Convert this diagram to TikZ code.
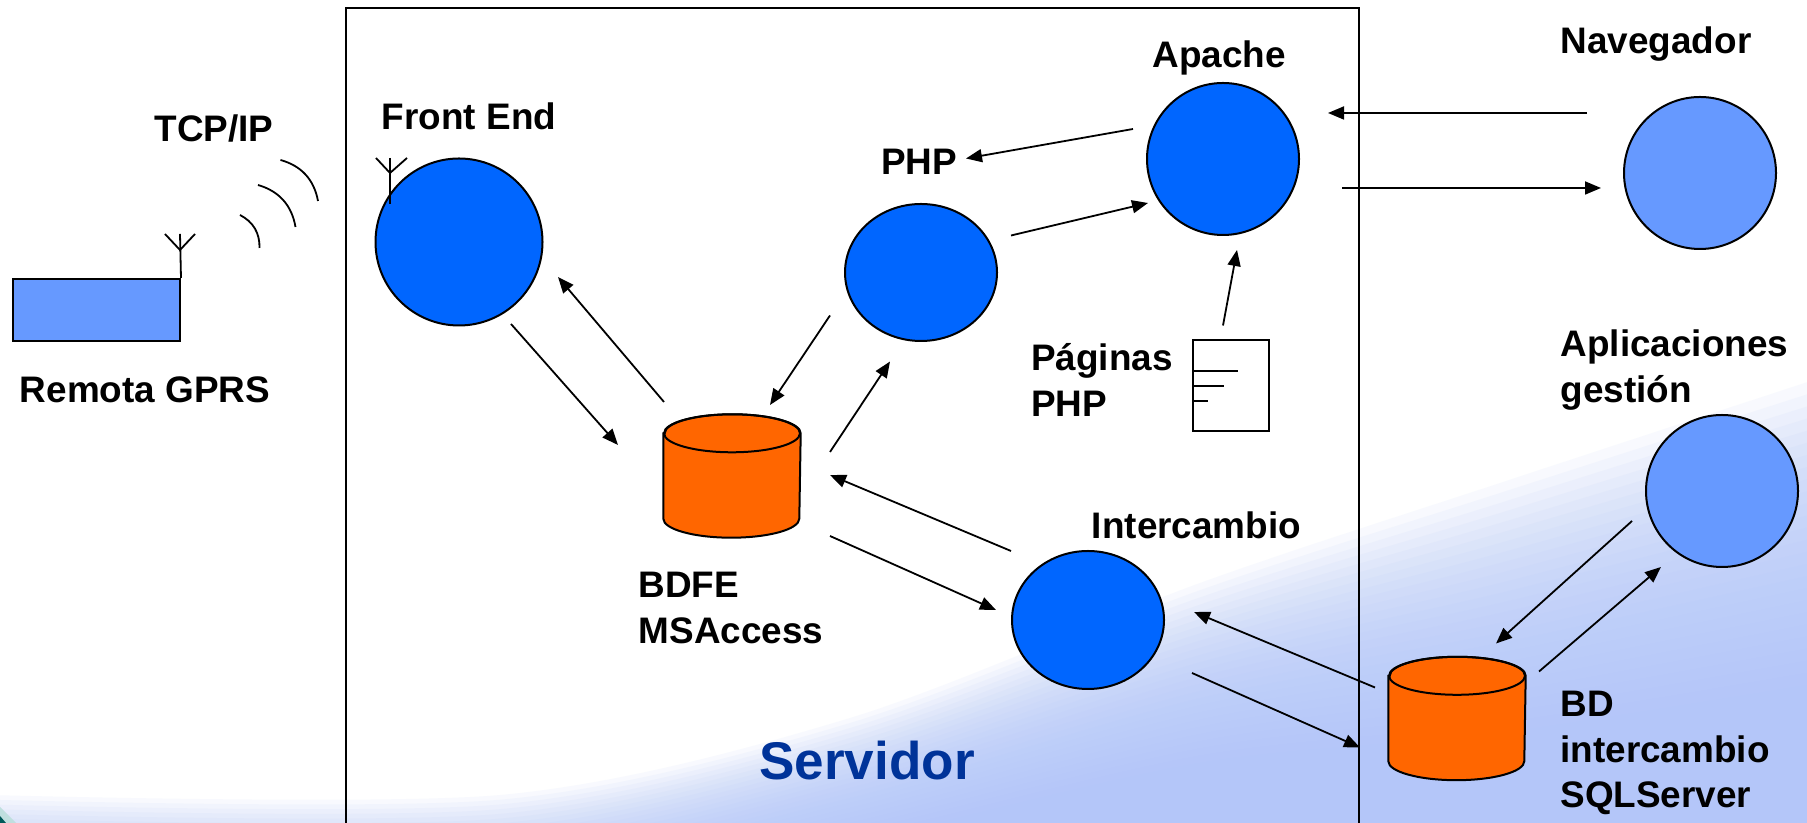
\documentclass[tikz,border=0pt]{standalone}
\usepackage{fontspec}
\setmainfont{Liberation Sans}
\usepackage{tikz}
\usetikzlibrary{shapes.geometric, arrows.meta, calc}
\definecolor{discblue}{HTML}{0066FF}
\definecolor{paleblue}{HTML}{6699FF}
\definecolor{dborange}{HTML}{FF6600}
\definecolor{titleblue}{HTML}{003399}
\definecolor{skyblue}{HTML}{B2C6F9}
\tikzset{
	label/.style={font=\bfseries\fontsize{10.5}{13}\selectfont, align=left, inner sep=0pt},
	disc/.style={ellipse, draw, line width=.02cm, fill=discblue, inner sep=0pt, minimum width=1.52cm, minimum height=1.52cm},
	paledisc/.style={disc, fill=paleblue},
	database/.style={rectangle, inner sep=0pt, minimum width=1.36cm, minimum height=1.22cm},
	link/.style={-{Triangle[length=.16cm, width=.13cm]}, line width=.018cm},
	thin line/.style={line width=.018cm},
}
\newcommand{\dbcan}[1]{
	\draw	[line width=.02cm, fill=dborange]	([yshift=-.19cm]#1.north west) -- ([yshift=.19cm]#1.south west) arc (180:360:.68cm and .19cm) -- ([yshift=-.19cm]#1.north east) arc (0:180:.68cm and .19cm) -- cycle;
	\draw	[line width=.02cm]	([yshift=-.19cm]#1.north) ellipse (.68cm and .19cm);
}
\begin{document}
\begin{tikzpicture}
	\clip (0, 0) rectangle (18.07, 8.23);
	\fill [white] (0, 0) rectangle (18.07, 8.23);
	% background wash
	\coordinate (o1) at (-.1, .28);	\coordinate (i1) at (-.1, -.9);
	\coordinate (o2) at (5, .28);	\coordinate (i2) at (5, -.9);
	\coordinate (o3) at (8.5, 1.05);	\coordinate (i3) at (8.5, -.2);
	\coordinate (o4) at (12, 2.4);	\coordinate (i4) at (12, .6);
	\coordinate (o5) at (15, 3.4);	\coordinate (i5) at (15, .9);
	\coordinate (o6) at (18.2, 4.45);	\coordinate (i6) at (18.2, 1.4);
	\foreach \t in {0, .04, ..., 1}
		\fill [skyblue, opacity=.09] plot [smooth] coordinates {($(o1)!\t!(i1)$) ($(o2)!\t!(i2)$) ($(o3)!\t!(i3)$) ($(o4)!\t!(i4)$) ($(o5)!\t!(i5)$) ($(o6)!\t!(i6)$)} -- (18.2, -1) -- (-.1, -1) -- cycle;
	\fill	[teal!25!white]	(0, 0) -- (0, .16) -- (.16, 0) -- cycle;
	\fill	[teal!70!black]	(0, 0) -- (0, .07) -- (.06, 0) -- cycle;

	\draw	[thin line]	(3.46, -.1) rectangle (13.59, 8.15);
	\node	(servidor)	at	(8.67, .62)	[font=\bfseries\fontsize{15.1}{18}\selectfont, text=titleblue, inner sep=0pt]	{Servidor};

	% remote unit
	\node	(remota)	at	(.965, 5.13)	[draw, line width=.02cm, fill=paleblue, inner sep=0pt, minimum width=1.67cm, minimum height=.62cm]	{};
	\coordinate	(tipA)	at	(1.80, 5.89);
	\draw	[thin line]	(remota.north east) -- (tipA);
	\draw	[thin line]	(1.65, 5.89) -- (1.80, 5.73) -- (1.95, 5.89);
	\draw	[thin line]	(2.40, 6.08) to[bend left=32] (2.595, 5.75);
	\draw	[thin line]	(2.58, 6.38) to[bend left=32] (2.955, 5.96);
	\draw	[thin line]	(2.805, 6.63) to[bend left=32] (3.18, 6.22);

	% processes
	\node	(frontend)	at	(4.59, 5.81)	[disc, minimum width=1.67cm, minimum height=1.67cm]	{};
	\node	(php)		at	(9.21, 5.505)	[disc, minimum height=1.37cm]	{};
	\node	(apache)	at	(12.23, 6.64)	[disc]	{};
	\node	(navegador)	at	(17, 6.5)		[paledisc]	{};
	\node	(gestion)	at	(17.22, 3.32)	[paledisc]	{};
	\node	(inter)		at	(10.88, 2.03)	[disc, minimum height=1.38cm]	{};
	\node	(bdfe)		at	(7.32, 3.47)	[database]	{};
	\node	(bdinter)	at	(14.57, 1.045)	[database]	{};
	\dbcan{bdfe}
	\dbcan{bdinter}
	\node	(paginas)	at	(12.31, 4.375)	[draw, thin line, inner sep=0pt, minimum width=.76cm, minimum height=.91cm]	{};
	\draw	[thin line]	(11.93, 4.52) -- (12.38, 4.52);
	\draw	[thin line]	(11.93, 4.37) -- (12.24, 4.37);
	\draw	[thin line]	(11.93, 4.22) -- (12.08, 4.22);
	\draw	[thin line]	(3.90, 6.65) -- (3.90, 6.19);
	\draw	[thin line]	(3.76, 6.65) -- (3.90, 6.50) -- (4.07, 6.65);

	% labels
	\node	(lfront)	at	(4.69, 7.07)	[label]	{Front End};
	\node	(ltcp)		at	(2.14, 6.94)	[label]	{TCP/IP};
	\node	(lremota)	at	(1.45, 4.33)	[label]	{Remota GPRS};
	\node	(lphp)		at	(9.19, 6.61)	[label]	{PHP};
	\node	(lapache)	at	(12.19, 7.65)	[label]	{Apache};
	\node	(lnav)		at	(16.56, 7.785)	[label]	{Navegador};
	\node	(lpag)		at	(11.02, 4.43)	[label]	{Páginas\\PHP};
	\node	(lgest)		at	(16.745, 4.53)	[label]	{Aplicaciones\\gestión};
	\node	(linter)	at	(11.965, 2.98)	[label]	{Intercambio};
	\node	(lbdfe)		at	(7.31, 2.15)	[label]	{BDFE\\MSAccess};
	\node	(lbdint)	at	(16.65, .70)	[label]	{BD\\intercambio\\SQLServer};

	% connectors
	\draw	[link]	([shift={(-.90, .30)}]apache.center)	-- ([shift={(.45, 1.14)}]php.center);
	\draw	[link]	([shift={(.90, .37)}]php.center)		-- ([shift={(-.75, -.44)}]apache.center);
	\draw	[link]	([shift={(-1.13, .60)}]navegador.center)	-- ([shift={(1.05, .46)}]apache.center);
	\draw	[link]	([shift={(1.19, -.29)}]apache.center)	-- ([shift={(-.99, -.15)}]navegador.center);
	\draw	[link]	([shift={(-.08, .60)}]paginas.center)	-- ([shift={(.14, -.91)}]apache.center);
	\draw	[link]	([shift={(.52, -.82)}]frontend.center)	-- ([shift={(-1.14, .31)}]bdfe.center);
	\draw	[link]	([shift={(-.68, .74)}]bdfe.center)		-- ([shift={(.99, -.35)}]frontend.center);
	\draw	[link]	([shift={(-.91, -.43)}]php.center)		-- ([shift={(.38, .71)}]bdfe.center);
	\draw	[link]	([shift={(.98, .24)}]bdfe.center)		-- ([shift={(-.31, -.89)}]php.center);
	\draw	[link]	([shift={(-.77, .69)}]inter.center)		-- ([shift={(.98, .01)}]bdfe.center);
	\draw	[link]	([shift={(.98, -.60)}]bdfe.center)		-- ([shift={(-.92, .10)}]inter.center);
	\draw	[link]	([shift={(-.82, .31)}]bdinter.center)	-- ([shift={(1.06, .08)}]inter.center);
	\draw	[link]	([shift={(1.04, -.53)}]inter.center)	-- ([shift={(-.97, -.29)}]bdinter.center);
	\draw	[link]	([shift={(-.90, -.30)}]gestion.center)	-- ([shift={(.39, .75)}]bdinter.center);
	\draw	[link]	([shift={(.82, .47)}]bdinter.center)	-- ([shift={(-.61, -.76)}]gestion.center);
\end{tikzpicture}
\end{document}
